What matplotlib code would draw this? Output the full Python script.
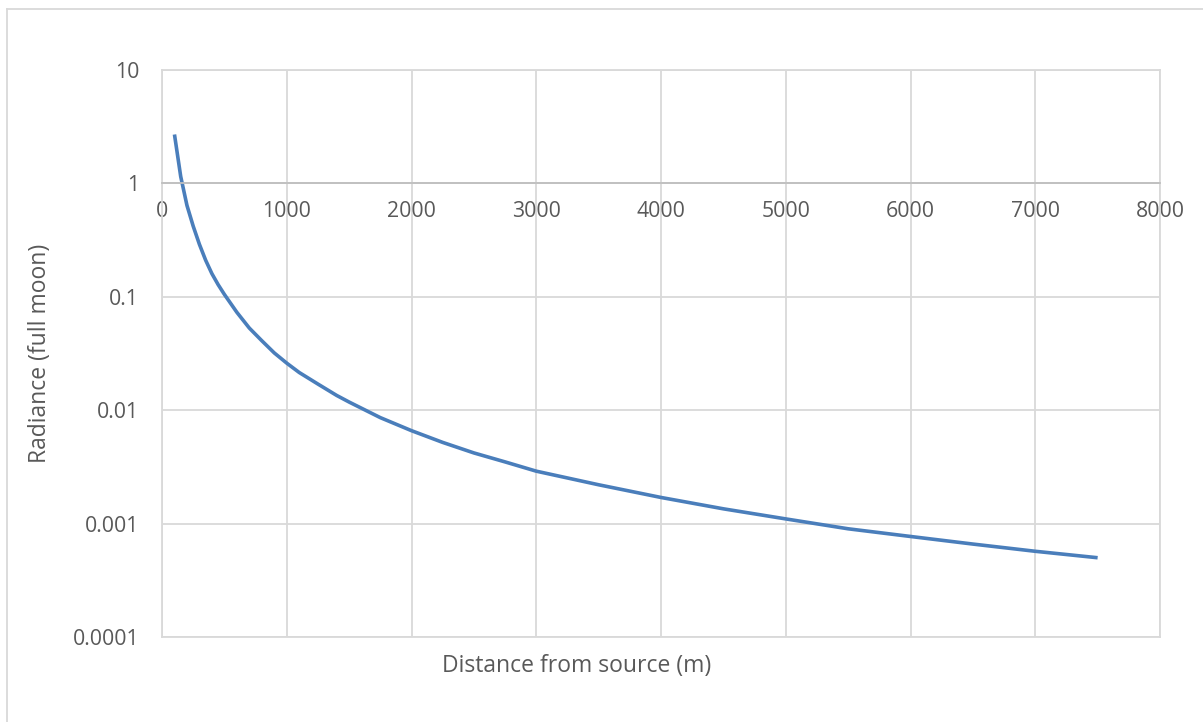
import matplotlib
matplotlib.use("Agg")
import matplotlib.pyplot as plt
from matplotlib.lines import Line2D
from matplotlib.ticker import FixedLocator, FixedFormatter

distance_m = [100, 150, 200, 250, 300, 350, 400, 450, 500, 600, 700, 800, 900, 1000,
              1100, 1250, 1400, 1500, 1750, 2000, 2250, 2500, 2750, 3000, 3500, 4000,
              4500, 5000, 5500, 6000, 6500, 7000, 7500]
radiance = [2.7, 1.15, 0.64, 0.42, 0.29, 0.21, 0.16, 0.128, 0.105, 0.073, 0.053, 0.041,
            0.032, 0.026, 0.0215, 0.017, 0.0135, 0.0118, 0.0086, 0.0066, 0.0052, 0.0042,
            0.0035, 0.0029, 0.0022, 0.0017, 0.00135, 0.0011, 0.00090, 0.00077, 0.00066,
            0.00057, 0.00050]

x_ticks = [0, 1000, 2000, 3000, 4000, 5000, 6000, 7000, 8000]
x_tick_labels = ["0", "1000", "2000", "3000", "4000", "5000", "6000", "7000", "8000"]
y_ticks = [0.0001, 0.001, 0.01, 0.1, 1, 10]
y_tick_labels = ["0.0001", "0.001", "0.01", "0.1", "1", "10"]

plt.rcParams['font.family'] = ['Open Sans', 'DejaVu Sans']
text_color = "#595959"
grid_color = "#d9d9d9"

fig = plt.figure(figsize=(12.03, 7.22), dpi=100)
ax = fig.add_axes([162/1203, 1-637/722, (1160-162)/1203, (637-70)/722])

ax.plot(distance_m, radiance, color="#4a7ebb", linewidth=2.6, solid_capstyle="butt",
        solid_joinstyle="round")

ax.set_yscale("log")
ax.set_xlim(0, 8000)
ax.set_ylim(0.0001, 10)

ax.xaxis.set_major_locator(FixedLocator(x_ticks))
ax.xaxis.set_major_formatter(FixedFormatter(x_tick_labels))
ax.yaxis.set_major_locator(FixedLocator(y_ticks))
ax.yaxis.set_major_formatter(FixedFormatter(y_tick_labels))
ax.yaxis.set_minor_locator(FixedLocator([]))

ax.grid(True, which="major", color=grid_color, linewidth=1.3)
ax.set_axisbelow(True)

for s in ["top", "right", "left"]:
    ax.spines[s].set_color(grid_color)
    ax.spines[s].set_linewidth(1.3)
ax.spines["bottom"].set_position(("data", 1))
ax.spines["bottom"].set_color("#bfbfbf")
ax.spines["bottom"].set_linewidth(1.3)
ax.plot([0, 8000], [0.0001, 0.0001], color=grid_color, linewidth=1.3, clip_on=False, zorder=0.5)

ax.tick_params(axis="both", length=0, labelsize=15.3, labelcolor=text_color)
ax.tick_params(axis="x", pad=13)
ax.tick_params(axis="y", pad=16.5)

fig.text(577/1203, 1-666/722, "Distance from source (m)", ha="center", va="center",
         fontsize=16.5, color=text_color)
fig.text(40/1203, 1-353/722, "Radiance (full moon)", ha="center", va="center",
         rotation=90, fontsize=16.5, color=text_color)

# chart-area border (top and left visible)
fig.add_artist(Line2D([7/1203, 1], [1-9/722, 1-9/722], transform=fig.transFigure,
                      color="#d9d9d9", linewidth=1.3))
fig.add_artist(Line2D([7/1203, 7/1203], [0, 1-9/722], transform=fig.transFigure,
                      color="#d9d9d9", linewidth=1.3))

fig.savefig("out.png", dpi=100, facecolor="white")
